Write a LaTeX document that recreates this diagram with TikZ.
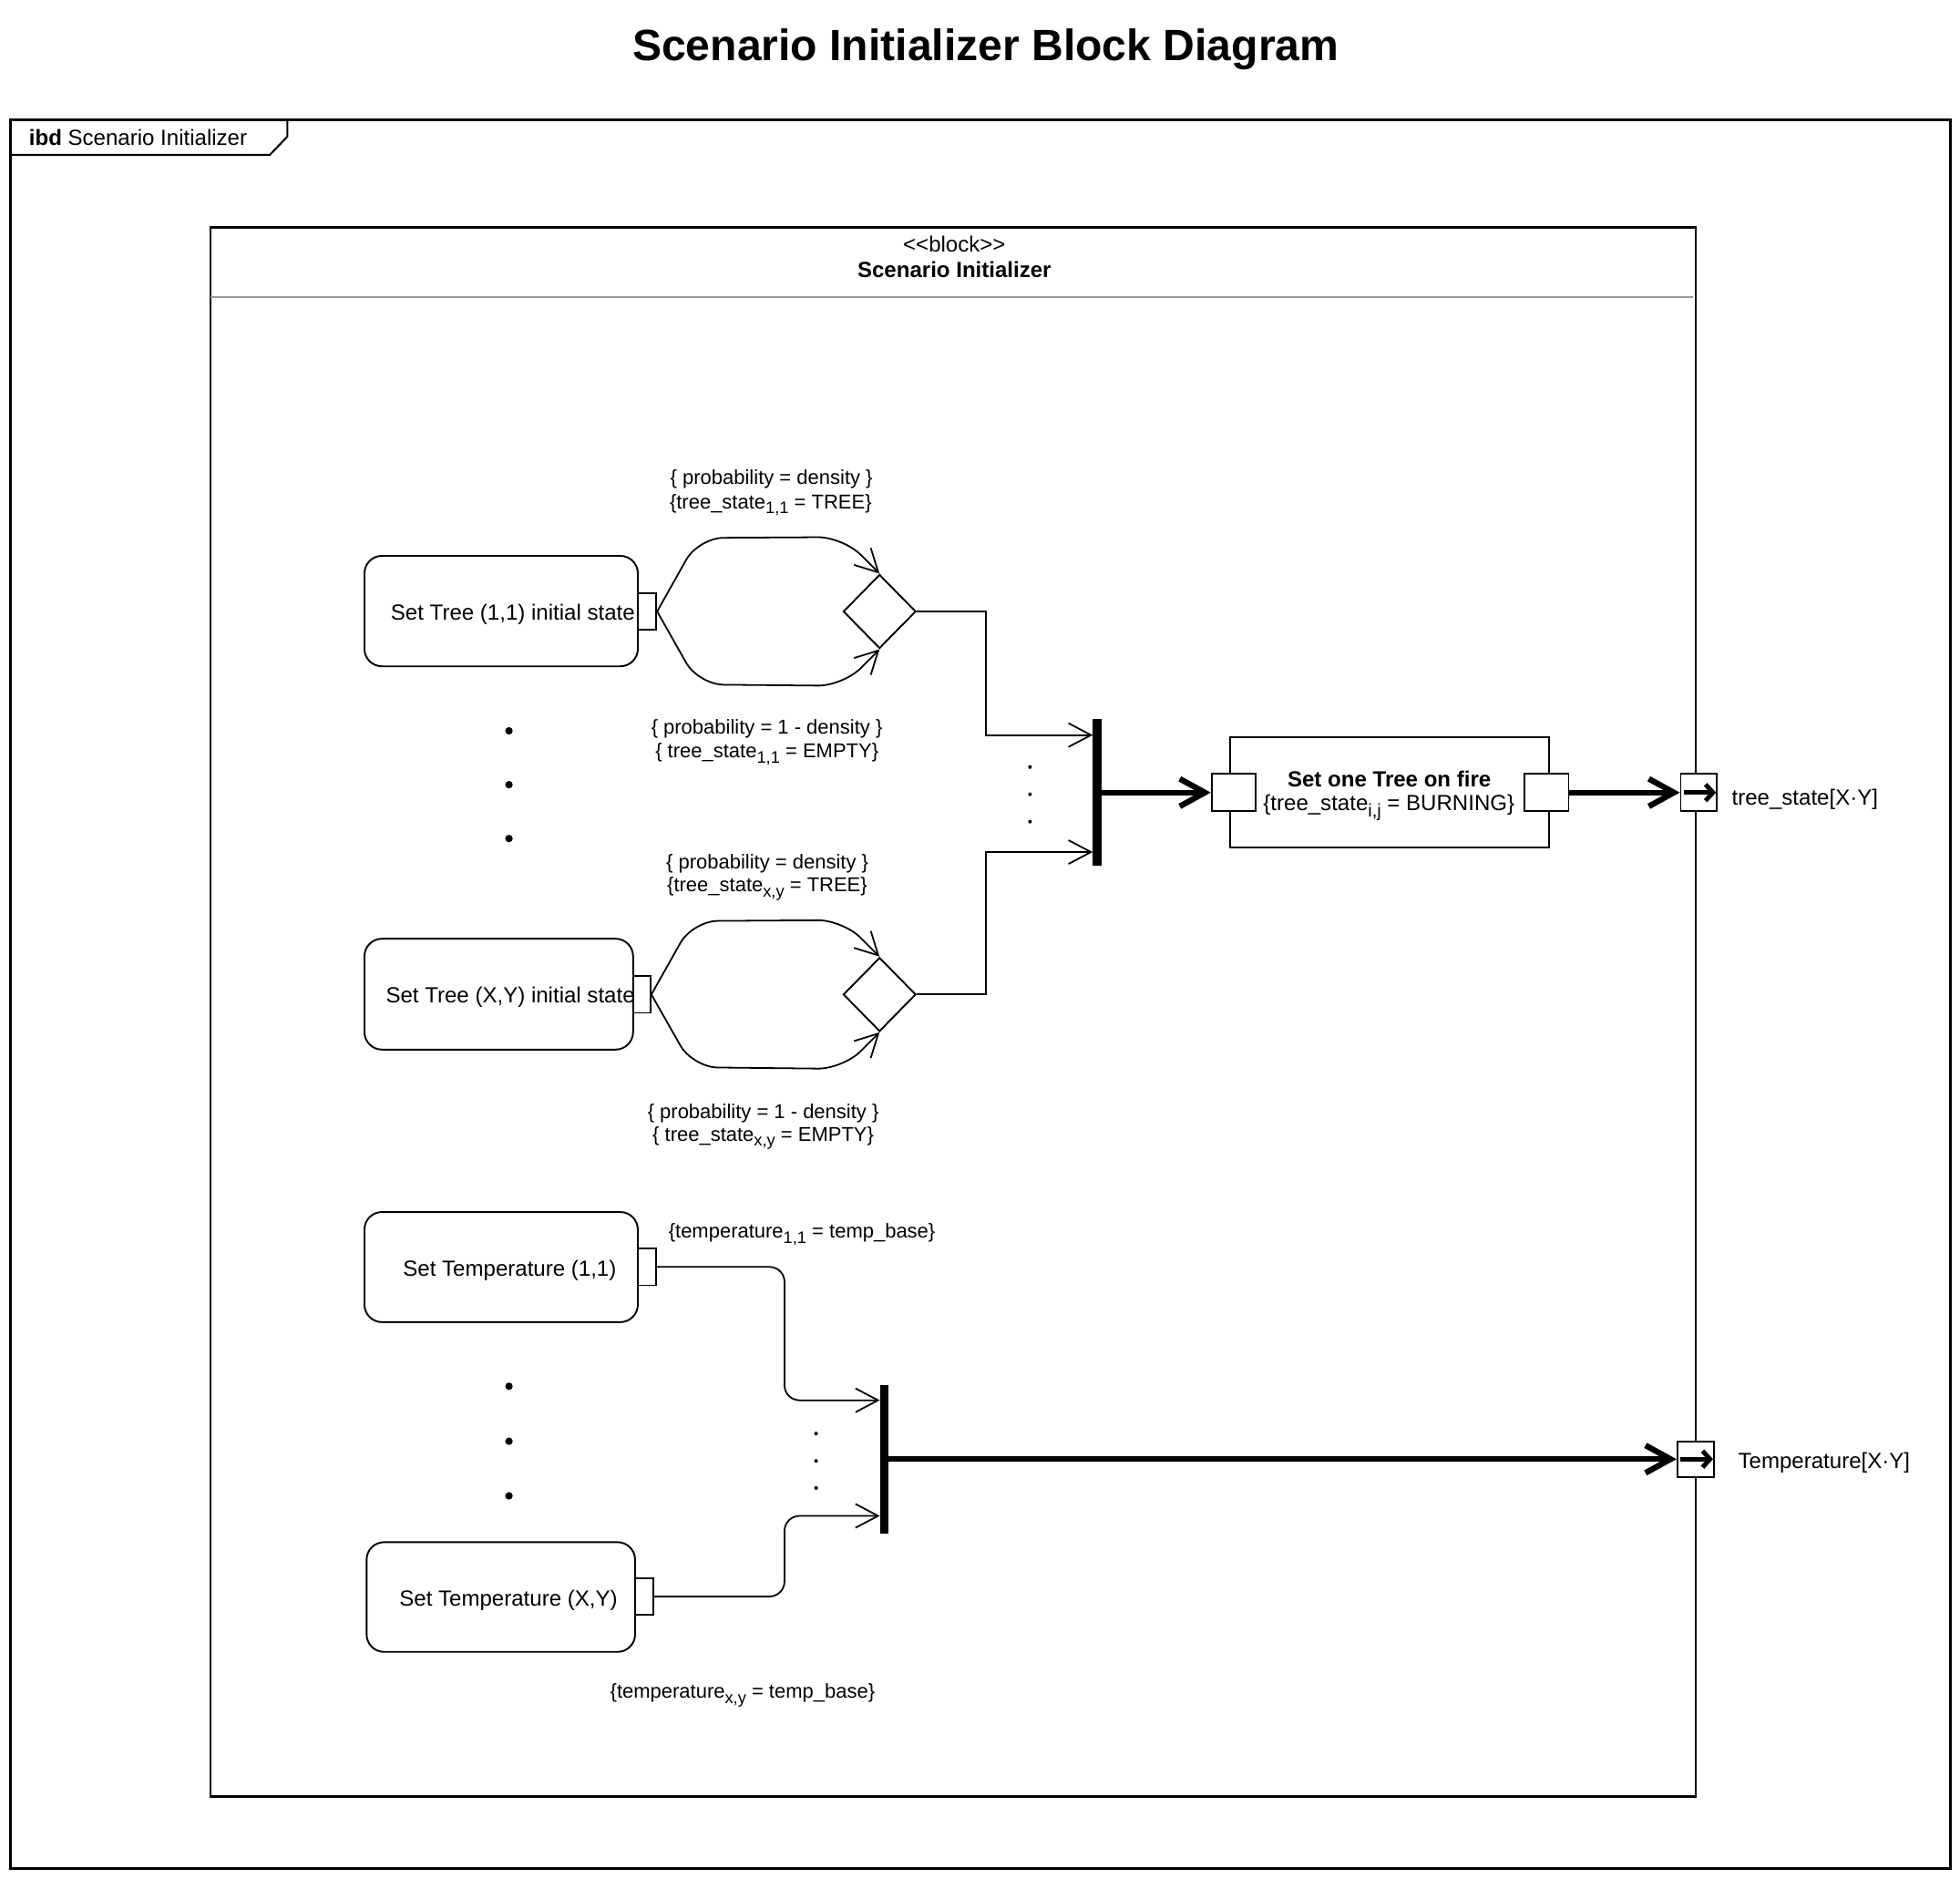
\documentclass[tikz,border=0pt]{standalone}
\usepackage{fontspec}
\setmainfont{Liberation Sans}
\usetikzlibrary{arrows.meta,shapes.geometric,calc}
\definecolor{sepgray}{RGB}{153,153,153}
\newcommand{\sbsl}[1]{\raisebox{-4pt}{\fontsize{13.3}{13.3}\selectfont #1}}
\newcommand{\sbsb}[1]{\raisebox{-4.5pt}{\fontsize{14.5}{14.5}\selectfont #1}}
\begin{document}
\begin{tikzpicture}[x=1pt,y=-1pt,
 framebox/.style={draw, line width=1.8pt, inner sep=0pt, anchor=north west},
 actbox/.style={draw, line width=1.4pt, rounded corners=14pt, inner sep=0pt},
 portbox/.style={draw, fill=white, line width=1.4pt, inner sep=0pt},
 decision/.style={diamond, draw, line width=1.4pt, inner sep=0pt, minimum width=58pt, minimum height=59pt},
 forkbar/.style={fill=black, inner sep=0pt, minimum width=7pt},
 bodytext/.style={font=\fontsize{17.5}{21}\selectfont, inner sep=0pt, anchor=base},
 boldtext/.style={font=\fontsize{17.5}{21}\selectfont\bfseries, inner sep=0pt, anchor=base},
 labeltext/.style={font=\fontsize{16}{19}\selectfont, inner sep=0pt, anchor=base},
 thinflow/.style={line width=1.3pt, -{Straight Barb[length=18pt,width=19pt]}},
 thickflow/.style={line width=4.6pt, -{Straight Barb[length=20pt,width=22pt]}},
 portflow/.style={line width=3.6pt, -{Straight Barb[length=6pt,width=13pt]}},
 bigdot/.style={circle, fill=black, inner sep=0pt, minimum size=6pt},
 smalldot/.style={circle, fill=black, inner sep=0pt, minimum size=3pt},
]
\useasboundingbox (0,0) rectangle (1565,1499.6);

% title
\node[font=\fontsize{35}{40}\selectfont\bfseries, anchor=base, inner sep=0pt] (title) at (787,48.5) {Scenario Initializer Block Diagram};

% outer frame and tab
\node[framebox, minimum width=1549.3pt, minimum height=1396.4pt] (frame) at (7.3,94.6) {};
\coordinate (tabA) at (7.3,123.7);
\coordinate (tabB) at (215.4,123.7);
\coordinate (tabC) at (229.4,109.1);
\coordinate (tabD) at (229.4,94.6);
\draw[line width=1.5pt] (tabA) -- (tabB) -- (tabC) -- (tabD);
\node[bodytext, anchor=base west] (ibd) at (23,116.4) {\textbf{ibd} Scenario Initializer};

% block
\node[framebox, minimum width=1185.7pt, minimum height=1252.7pt] (block) at (167.3,180.7) {};
\coordinate (sepL) at (168.2,237.2);
\coordinate (sepR) at (1352.1,237.2);
\draw[sepgray, line width=1.8pt] (sepL) -- (sepR);
\node[bodytext] (stereo) at (762,201.3) {<\kern0pt<block>\kern0pt>};
\node[boldtext] (blkname) at (762,221.9) {Scenario Initializer};

% activity boxes
\node[actbox, minimum width=218.3pt, minimum height=88.2pt] (t11) at (400.15,487.9) {};
\node[bodytext] (t11txt) at (409.5,495.1) {Set Tree (1,1) initial state};
\node[actbox, minimum width=214.5pt, minimum height=88.5pt] (txy) at (398.25,793.75) {};
\node[bodytext] (txytxt) at (407.5,800.8) {Set Tree (X,Y) initial state};
\node[actbox, minimum width=218.3pt, minimum height=87.9pt] (tmp11) at (400.15,1011.65) {};
\node[bodytext] (tmp11txt) at (407,1019.2) {Set Temperature (1,1)};
\node[actbox, minimum width=214.4pt, minimum height=87.6pt] (tmpxy) at (399.9,1275.1) {};
\node[bodytext] (tmpxytxt) at (406,1282.5) {Set Temperature (X,Y)};

% ports on activity boxes
\node[portbox, minimum width=14.7pt, minimum height=29.6pt] (p11) at (516.65,488.2) {};
\node[portbox, minimum width=13.9pt, minimum height=29.4pt] (pxy) at (512.45,794) {};
\node[portbox, minimum width=14.7pt, minimum height=29.4pt] (ptmp11) at (516.65,1011.5) {};
\node[portbox, minimum width=14.6pt, minimum height=29.7pt] (ptmpxy) at (514.4,1274.65) {};

% decisions
\node[decision] (d11) at (702.3,488.2) {};
\node[decision] (dxy) at (702.3,794) {};

% fork bars
\node[forkbar, minimum height=117.4pt] (bar1) at (876,632.8) {};
\node[forkbar, minimum height=118.3pt] (bar2) at (706,1165) {};
\coordinate (b1a) at (872.5,586.9);
\coordinate (b1b) at (872.5,680.3);
\coordinate (b2a) at (702.5,1118);
\coordinate (b2b) at (702.5,1210.3);

% fire block
\node[draw, line width=1.4pt, inner sep=0pt, minimum width=255.2pt, minimum height=87.8pt] (fire) at (1109.5,632.8) {};
\node[portbox, minimum width=35pt, minimum height=29.6pt] (fireIn) at (985,632.8) {};
\node[portbox, minimum width=35pt, minimum height=29.6pt] (fireOut) at (1235,632.8) {};
\node[boldtext] (firetitle) at (1109.3,628.1) {Set one Tree on fire};
\node[bodytext] (firecond) at (1109,647.5) {\{tree\_state\sbsb{i,j} = BURNING\}};

% outer ports
\node[portbox, minimum width=29pt, minimum height=29.6pt] (out1) at (1356.5,632.8) {};
\node[portbox, minimum width=29.3pt, minimum height=28.6pt] (out2) at (1354,1165) {};
\draw[portflow] ($(out1.west)+(3,0)$) -- ($(out1.east)+(-1.5,0)$);
\draw[portflow] ($(out2.west)+(3,0)$) -- ($(out2.east)+(-1.5,0)$);
\node[bodytext, anchor=base west] (o1lbl) at (1382.6,642.5) {tree\_state[X·Y]};
\node[bodytext, anchor=base west] (o2lbl) at (1387.7,1172.2) {Temperature[X·Y]};

% branches
\draw[thinflow, rounded corners=20pt] (p11.east) -- ++(33,-58.7) -- ($(d11.north)+(-29.2,-29.2)$) -- (d11.north);
\draw[thinflow, rounded corners=20pt] (p11.east) -- ++(33,58.3) -- ($(d11.south)+(-29.2,29.2)$) -- (d11.south);
\draw[thinflow, rounded corners=20pt] (pxy.east) -- ++(33,-58.6) -- ($(dxy.north)+(-29.2,-29.2)$) -- (dxy.north);
\draw[thinflow, rounded corners=20pt] (pxy.east) -- ++(33,58.1) -- ($(dxy.south)+(-29.2,29.2)$) -- (dxy.south);

% decisions to fork
\draw[thinflow] (d11.east) -- ++(55,0) |- (b1a);
\draw[thinflow] (dxy.east) -- ++(55,0) |- (b1b);

% temperature to fork
\draw[thinflow, rounded corners=12pt] (ptmp11.east) -- ++(101.7,0) |- (b2a);
\draw[thinflow, rounded corners=12pt] (ptmpxy.east) -- ++(104,0) |- (b2b);

% thick flows
\draw[thickflow] (bar1.east) -- (fireIn.west);
\draw[thickflow] (fireOut.east) -- (out1.west);
\draw[thickflow] (bar2.east) -- (out2.west);

% dots
\node[bigdot] (dA1) at (406.4,583.5) {};
\node[bigdot] (dA2) at (406.4,626.5) {};
\node[bigdot] (dA3) at (406.4,669.5) {};
\node[bigdot] (dB1) at (406.4,1106.8) {};
\node[bigdot] (dB2) at (406.4,1150.7) {};
\node[bigdot] (dB3) at (406.4,1194.3) {};
\node[smalldot] (sA1) at (822.4,612.4) {};
\node[smalldot] (sA2) at (822.4,634.2) {};
\node[smalldot] (sA3) at (822.4,656) {};
\node[smalldot] (sB1) at (651.6,1144.6) {};
\node[smalldot] (sB2) at (651.6,1166.4) {};
\node[smalldot] (sB3) at (651.6,1188) {};

% labels
\node[labeltext] (l1a) at (616,387) {\{ probability = density \}};
\node[labeltext] (l1b) at (615.4,406) {\{tree\_state\sbsl{1,1} = TREE\}};
\node[labeltext] (l2a) at (612.3,586.4) {\{ probability = 1 - density \}};
\node[labeltext] (l2b) at (612.4,605) {\{ tree\_state\sbsl{1,1} = EMPTY\}};
\node[labeltext] (l3a) at (612.7,693.4) {\{ probability = density \}};
\node[labeltext] (l3b) at (612.6,712.2) {\{tree\_state\sbsl{x,y} = TREE\}};
\node[labeltext] (l4a) at (609.4,892.9) {\{ probability = 1 - density \}};
\node[labeltext] (l4b) at (609.4,911.2) {\{ tree\_state\sbsl{x,y} = EMPTY\}};
\node[labeltext] (l5) at (640.3,988.5) {\{temperature\sbsl{1,1} = temp\_base\}};
\node[labeltext] (l6) at (592.9,1355.9) {\{temperature\sbsl{x,y} = temp\_base\}};
\end{tikzpicture}
\end{document}
